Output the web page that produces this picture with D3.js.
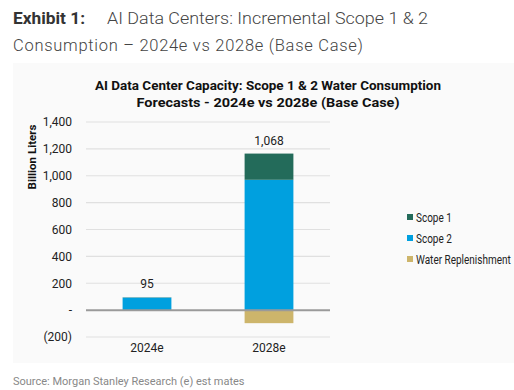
<!DOCTYPE html>
<html><head><meta charset="utf-8">
<script src="https://cdn.jsdelivr.net/npm/d3@7"></script>
<style>body{margin:0;background:#fff;}svg{display:block;font-family:Roboto,"Noto Sans",sans-serif;}</style>
</head><body><svg id="c" width="514" height="390"></svg>
<script>
const categories = ["2024e", "2028e"];
const scope1 = [2, 195];
const scope2 = [93, 970];
const replenishment = [0, -97];
const totals = ["95", "1,068"];
const yTicks = [-200, 0, 200, 400, 600, 800, 1000, 1200, 1400];
const seriesNames = ["Scope 1", "Scope 2", "Water Replenishment"];
const colors = ["#236b5a", "#00a0df", "#cdb56b"];

const svg = d3.select("#c");
// panel background
svg.append("rect").attr("x", 13).attr("y", 63).attr("width", 501).attr("height", 300).attr("fill", "#fafafa");

// header
svg.append("text").attr("x", 13).attr("y", 24).attr("font-size", 16.5).attr("font-weight", "bold").attr("fill", "#333")
  .attr("textLength", 72).attr("lengthAdjust", "spacingAndGlyphs").text("Exhibit 1:");
svg.append("text").attr("x", 107).attr("y", 24).attr("font-size", 16.5).attr("font-weight", 300).attr("fill", "#444")
  .attr("textLength", 321).attr("lengthAdjust", "spacingAndGlyphs").text("AI Data Centers: Incremental Scope 1 & 2");
svg.append("text").attr("x", 13).attr("y", 51).attr("font-size", 16.5).attr("font-weight", 300).attr("fill", "#444")
  .attr("textLength", 350).attr("lengthAdjust", "spacing")
  .text("Consumption \u2013 2024e vs 2028e (Base Case)");

// chart title
svg.append("text").attr("x", 268).attr("y", 90).attr("text-anchor", "middle").attr("font-size", 13.5)
  .attr("font-weight", "bold").attr("fill", "#111").attr("textLength", 346).attr("lengthAdjust", "spacingAndGlyphs")
  .text("AI Data Center Capacity:  Scope 1 & 2 Water Consumption");
svg.append("text").attr("x", 268).attr("y", 107).attr("text-anchor", "middle").attr("font-size", 13.5)
  .attr("font-weight", "bold").attr("fill", "#111").attr("textLength", 263).attr("lengthAdjust", "spacingAndGlyphs")
  .text("Forecasts - 2024e vs 2028e  (Base Case)");

const x = d3.scaleBand().domain(categories).range([86, 330]).paddingInner(0.6).paddingOuter(0.3);
const y = d3.scaleLinear().domain([-200, 1400]).range([337, 122]);

// gridlines
svg.append("g").selectAll("line").data(yTicks.filter(d => d !== 0)).join("line")
  .attr("x1", 86).attr("x2", 330).attr("y1", d => y(d)).attr("y2", d => y(d))
  .attr("stroke", "#e0e0e0").attr("stroke-width", 1.2);

// y axis labels
const fmt = d => d === 0 ? "-" : d < 0 ? "(" + d3.format(",")(-d) + ")" : d3.format(",")(d);
const yAxis = d3.axisLeft(y).tickValues(yTicks).tickFormat(fmt).tickSize(0).tickPadding(0);
const ya = svg.append("g").attr("transform", "translate(72,0)").call(yAxis);
ya.select(".domain").remove();
ya.selectAll("text").attr("font-size", 12).attr("fill", "#222").attr("font-family", "Roboto, sans-serif");

svg.append("text").attr("transform", "translate(36,157) rotate(-90)").attr("text-anchor", "middle")
  .attr("font-size", 11.5).attr("font-weight", "bold").attr("fill", "#111").text("Billion Liters");

// bars
const bw = x.bandwidth();
categories.forEach((c, i) => {
  svg.append("rect").attr("x", x(c)).attr("width", bw).attr("y", y(scope2[i])).attr("height", y(0) - y(scope2[i])).attr("fill", colors[1]);
  svg.append("rect").attr("x", x(c)).attr("width", bw).attr("y", y(scope2[i] + scope1[i])).attr("height", y(scope2[i]) - y(scope2[i] + scope1[i])).attr("fill", colors[0]);
  if (replenishment[i] < 0)
    svg.append("rect").attr("x", x(c)).attr("width", bw).attr("y", y(0)).attr("height", y(replenishment[i]) - y(0)).attr("fill", colors[2]);
  svg.append("text").attr("x", x(c) + bw / 2).attr("y", y(scope1[i] + scope2[i]) - 9).attr("text-anchor", "middle")
    .attr("font-size", 12).attr("fill", "#222").text(totals[i]);
});

// zero line
svg.append("line").attr("x1", 86).attr("x2", 330).attr("y1", y(0)).attr("y2", y(0)).attr("stroke", "#9a9a9a").attr("stroke-width", 2);

// x axis labels
const xAxis = d3.axisBottom(x).tickSize(0).tickPadding(0);
const xa = svg.append("g").attr("transform", "translate(0,343)").call(xAxis);
xa.select(".domain").remove();
xa.selectAll("text").attr("font-size", 12).attr("fill", "#222").attr("font-family", "Roboto, sans-serif");

// legend
const lg = svg.append("g");
seriesNames.forEach((n, i) => {
  const yy = 217 + i * 21;
  lg.append("rect").attr("x", 407).attr("y", yy - 3).attr("width", 6).attr("height", 6).attr("fill", colors[i]);
  lg.append("text").attr("transform", `translate(416,${yy + 4.5}) scale(0.8,1)`).attr("font-size", 12.5).attr("fill", "#222").text(n);
});

// source
svg.append("text").attr("x", 13).attr("y", 385).attr("font-size", 11).attr("fill", "#888")
  .text("Source: Morgan Stanley Research (e) est mates");
</script></body></html>
